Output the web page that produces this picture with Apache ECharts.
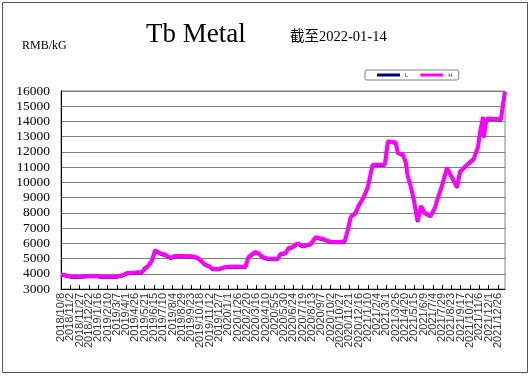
<!DOCTYPE html>
<html>
<head>
<meta charset="utf-8">
<script src="https://cdn.jsdelivr.net/npm/echarts@6/dist/echarts.min.js"></script>
<style>
html,body{margin:0;padding:0;background:#fff;}
#chart{width:532px;height:378px;}
</style>
</head>
<body>
<div id="chart"></div>
<script>
// ---- data ----
const startDate = '2018/10/8';
const endDate = '2022/1/14';
const tickLabels = ['2018/10/8','2018/11/2','2018/11/27','2018/12/22','2019/1/16','2019/2/10','2019/3/7','2019/4/1','2019/4/26','2019/5/21','2019/6/15','2019/7/10','2019/8/4','2019/8/29','2019/9/23','2019/10/18','2019/11/12','2019/12/7','2020/1/1','2020/1/26','2020/2/20','2020/3/16','2020/4/10','2020/5/5','2020/5/30','2020/6/24','2020/7/19','2020/8/13','2020/9/7','2020/10/2','2020/10/27','2020/11/21','2020/12/16','2021/1/10','2021/2/4','2021/3/1','2021/3/26','2021/4/20','2021/5/15','2021/6/9','2021/7/4','2021/7/29','2021/8/23','2021/9/17','2021/10/12','2021/11/6','2021/12/1','2021/12/26'];
const dates = ['2018/10/8','2018/10/21','2018/11/7','2018/11/28','2018/12/20','2019/1/16','2019/1/26','2019/3/3','2019/3/21','2019/4/4','2019/4/25','2019/5/14','2019/5/22','2019/5/30','2019/6/10','2019/6/18','2019/7/2','2019/7/15','2019/7/29','2019/8/11','2019/9/7','2019/9/26','2019/10/10','2019/10/20','2019/10/31','2019/11/11','2019/11/19','2019/12/5','2019/12/24','2020/1/20','2020/2/16','2020/2/24','2020/3/6','2020/3/14','2020/3/22','2020/4/2','2020/4/18','2020/5/12','2020/5/20','2020/6/3','2020/6/11','2020/6/22','2020/7/5','2020/7/19','2020/8/9','2020/8/23','2020/8/31','2020/9/13','2020/10/2','2020/10/29','2020/11/9','2020/11/17','2020/11/25','2020/12/8','2020/12/16','2020/12/30','2021/1/10','2021/1/23','2021/2/25','2021/3/5','2021/3/26','2021/4/1','2021/4/14','2021/4/22','2021/4/27','2021/5/6','2021/5/14','2021/5/24','2021/6/2','2021/6/12','2021/6/28','2021/7/9','2021/7/17','2021/7/28','2021/8/11','2021/8/24','2021/9/7','2021/9/15','2021/10/1','2021/10/22','2021/11/2','2021/11/8','2021/11/16','2021/11/18','2021/11/24','2021/11/29','2022/1/3','2022/1/9','2022/1/14'];
const highValues = [3950,3900,3800,3820,3850,3850,3800,3800,3900,4050,4080,4120,4380,4500,4900,5550,5350,5250,5050,5170,5170,5150,5050,4850,4600,4500,4320,4310,4450,4480,4450,5100,5300,5430,5350,5100,4980,4970,5300,5360,5690,5760,6000,5820,5950,6400,6350,6280,6100,6090,6150,6850,7730,8000,8450,9040,9700,11150,11180,12700,12620,11950,11850,11350,10480,9700,8840,7450,8450,8000,7800,8300,8950,9750,10950,10350,9700,10700,11100,11550,12300,13300,14300,13000,14000,14200,14150,15200,15950];
const lowValues  = [3900,3850,3750,3770,3800,3800,3750,3750,3850,4000,4030,4070,4330,4450,4850,5500,5300,5200,5000,5120,5120,5100,5000,4800,4550,4450,4270,4260,4400,4430,4400,5050,5250,5380,5300,5050,4930,4920,5250,5310,5640,5710,5950,5770,5900,6350,6300,6230,6050,6040,6100,6800,7680,7950,8400,8990,9650,11100,11130,12650,12570,11900,11800,11300,10430,9650,8790,7400,8400,7950,7750,8250,8900,9700,10900,10300,9650,10650,11050,11500,12250,13250,14250,12950,13950,14150,14100,15150,15900];
const yMin = 3000, yMax = 16000, yStep = 1000;

// ---- category days for the date axis ----
function fmt(d){return d.getFullYear()+'/'+(d.getMonth()+1)+'/'+d.getDate();}
const categories = [];
{
  const s = startDate.split('/').map(Number), e = endDate.split('/').map(Number);
  let d = new Date(s[0], s[1]-1, s[2], 12);
  const end = new Date(e[0], e[1]-1, e[2], 12);
  while (d <= end) { categories.push(fmt(d)); d = new Date(d.getFullYear(), d.getMonth(), d.getDate()+1, 12); }
}
const tickSet = new Set(tickLabels);
const showTick = (i, v) => tickSet.has(v);

const chart = echarts.init(document.getElementById('chart'), null, {renderer:'canvas'});
chart.setOption({
  backgroundColor: '#fff',
  animation: false,
  title: [
    {text:'Tb Metal', left:146, top:21, padding:0, textStyle:{fontFamily:'Liberation Serif', fontSize:27, fontWeight:'normal', color:'#000'}},
    {text:'截至2022-01-14', left:290, top:30, padding:0, textStyle:{fontFamily:'Liberation Serif, Noto Sans CJK SC', fontSize:14.5, fontWeight:'normal', color:'#000'}},
    {text:'RMB/kG', left:22, top:40, padding:0, textStyle:{fontFamily:'Liberation Serif', fontSize:12, fontWeight:'normal', color:'#000'}}
  ],
  legend: {
    left:365, top:70, padding:[2,6,2,12], itemGap:12,
    borderColor:'#808080', borderWidth:1, borderRadius:2,
    itemWidth:23, itemHeight:3, icon:'rect',
    textStyle:{fontSize:6, color:'#333', fontFamily:'Liberation Sans'},
    data:['L','H']
  },
  grid: {left:61, right:27, top:91, bottom:89, show:true, borderColor:'#808080', borderWidth:1},
  xAxis: {
    type:'category', data:categories, boundaryGap:false,
    axisLine:{lineStyle:{color:'#000', width:1}},
    axisTick:{inside:true, length:4, interval:showTick, lineStyle:{color:'#000'}},
    axisLabel:{interval:0, formatter:(v)=> tickSet.has(v) ? v : '', rotate:90, fontSize:11, margin:4, color:'#333', fontFamily:'Liberation Sans',
      showMinLabel:true, showMaxLabel:true, hideOverlap:false},
    splitLine:{show:false}
  },
  yAxis: {
    type:'value', min:yMin, max:yMax, interval:yStep,
    axisLine:{show:true, lineStyle:{color:'#000', width:1}},
    axisTick:{show:false},
    axisLabel:{fontSize:13.5, margin:11, color:'#000', fontFamily:'Liberation Serif', formatter:(v)=>String(v)},
    splitLine:{lineStyle:{color:'#808080', width:1}}
  },
  series: [
    {name:'L', type:'line', data:dates.map((d,i)=>[d, lowValues[i]]), showSymbol:false, symbol:'none',
     lineStyle:{color:'#000080', width:3}, itemStyle:{color:'#000080'}, z:2},
    {name:'H', type:'line', data:dates.map((d,i)=>[d, highValues[i]]), showSymbol:false, symbol:'none',
     lineStyle:{color:'#ff00ff', width:4}, itemStyle:{color:'#ff00ff'}, z:3}
  ],
  graphic: [
    {type:'rect', shape:{x:2.5, y:2.5, width:525, height:370}, style:{fill:'none', stroke:'#555', lineWidth:1}, silent:true, z:-1}
  ]
});
</script>
</body>
</html>
